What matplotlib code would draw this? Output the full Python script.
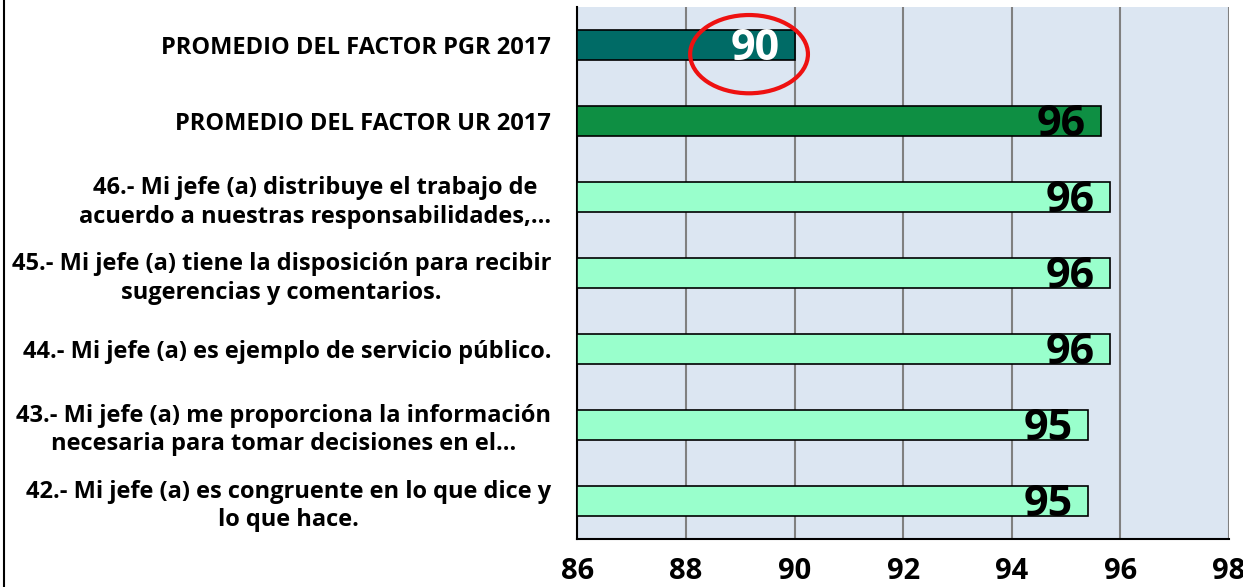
import matplotlib
matplotlib.use('Agg')
import matplotlib.pyplot as plt
from matplotlib.patches import Ellipse

# Data (top to bottom as shown)
categories = [
    'PROMEDIO DEL FACTOR PGR 2017',
    'PROMEDIO DEL FACTOR UR 2017',
    '46.- Mi jefe (a) distribuye el trabajo de\nacuerdo a nuestras responsabilidades,…',
    '45.- Mi jefe (a) tiene la disposición para recibir\nsugerencias y comentarios.',
    '44.- Mi jefe (a) es ejemplo de servicio público.',
    '43.- Mi jefe (a) me proporciona la información\nnecesaria para tomar decisiones en el…',
    '42.- Mi jefe (a) es congruente en lo que dice y\nlo que hace.',
]
values = [90.0, 95.65, 95.8, 95.8, 95.8, 95.4, 95.4]
value_labels = ['90', '96', '96', '96', '96', '95', '95']
bar_colors = ['#006B66', '#0E8F43', '#99FFCC', '#99FFCC', '#99FFCC', '#99FFCC', '#99FFCC']
label_colors = ['white', 'black', 'black', 'black', 'black', 'black', 'black']
x_ticks = [86, 88, 90, 92, 94, 96, 98]

plt.rcParams['font.family'] = ['Open Sans', 'DejaVu Sans']

fig = plt.figure(figsize=(12.43, 5.87), dpi=100)
ax = fig.add_axes([0.4646, 0.0818, 0.5241, 0.9062])
ax.set_facecolor('#DCE6F2')

pos = list(range(len(categories)))
ax.barh(pos, [v - 86 for v in values], left=86, height=0.4,
        color=bar_colors, edgecolor='black', linewidth=1.2, zorder=3)

for p, v, lab, c in zip(pos, values, value_labels, label_colors):
    ax.text(v - 0.28, p + 0.05, lab, ha='right', va='center',
            fontsize=31, fontweight='bold', color=c, zorder=4)

# red circle around the PGR value
ax.add_patch(Ellipse((89.16, 0.12), 2.17, 1.03, fill=False,
                     edgecolor='#EE1111', linewidth=3, zorder=5, clip_on=False))

ax.set_xlim(86, 98)
ax.set_ylim(6.5, -0.5)
ax.set_xticks(x_ticks)
ax.set_xticklabels([str(t) for t in x_ticks], fontsize=21, fontweight='bold')
ax.set_yticks(pos)
ax.set_yticklabels(categories, fontsize=17, fontweight='bold', multialignment='center',
                   linespacing=1.25)
ax.tick_params(axis='y', length=0, pad=19)
ax.tick_params(axis='x', length=0, pad=13)

ax.grid(axis='x', color='#808080', linewidth=1.5, zorder=1)
ax.set_axisbelow(True)
for s in ['top', 'right']:
    ax.spines[s].set_visible(False)
ax.spines['left'].set_linewidth(1.5)
ax.spines['bottom'].set_linewidth(1.5)

# chart border on the left
fig.add_artist(plt.Line2D([0.003, 0.003], [0, 1], color='black', linewidth=1.5))

fig.savefig('out.png', dpi=100)
